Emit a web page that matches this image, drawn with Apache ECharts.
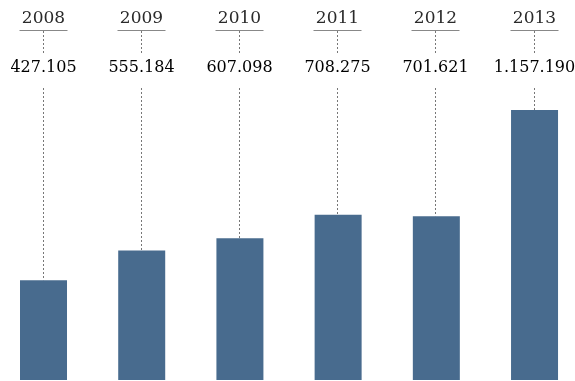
<!DOCTYPE html>
<html>
<head>
<meta charset="utf-8">
<script src="https://cdn.jsdelivr.net/npm/echarts@6/dist/echarts.min.js"></script>
<style>
  html, body { margin: 0; padding: 0; background: #fff; }
  #chart { width: 575px; height: 381px; }
</style>
</head>
<body>
<div id="chart"></div>
<script>
// 年份和数值
var years = ["2008", "2009", "2010", "2011", "2012", "2013"];
var values = [427105, 555184, 607098, 708275, 701621, 1157190];

// 千位用点号分隔
function fmt(v) {
    return String(v).replace(/\B(?=(\d{3})+(?!\d))/g, ".");
}

var myChart = echarts.init(document.getElementById("chart"));

// x 轴用数值轴，按年份下标定位
var points = values.map(function(v, i) { return [i, v]; });

var option = {
    animation: false,
    grid: {
        left: 0,
        right: 0,
        top: 110,
        bottom: 1
    },
    xAxis: {
        type: "value",
        min: -0.443,
        max: 5.412,
        show: false
    },
    yAxis: {
        type: "value",
        min: 0,
        max: "dataMax",
        show: false
    },
    series: [{
        type: "bar",
        data: points,
        barWidth: 47,
        silent: true,
        itemStyle: { color: "#486b8e" }
    }, {
        // 顶部年份、下划线、数值和虚线
        type: "custom",
        silent: true,
        data: points,
        encode: { x: 0, y: 1 },
        renderItem: function(params, api) {
            var pt = api.coord([api.value(0), api.value(1)]);
            var x = Math.round(pt[0]) - 0.5;
            var idx = api.value(0);
            var dash = { stroke: "#777", lineWidth: 1, lineDash: [2, 2] };
            return {
                type: "group",
                children: [{
                    type: "text",
                    style: {
                        x: x, y: 19,
                        text: years[idx],
                        align: "center",
                        verticalAlign: "middle",
                        font: "17px 'DejaVu Serif'",
                        fill: "#2a2a2a"
                    }
                }, {
                    type: "line",
                    shape: { x1: x - 24, y1: 30.5, x2: x + 24, y2: 30.5 },
                    style: { stroke: "#888", lineWidth: 1 }
                }, {
                    type: "line",
                    shape: { x1: x, y1: 31, x2: x, y2: 53 },
                    style: dash
                }, {
                    type: "text",
                    style: {
                        x: x, y: 68,
                        text: fmt(api.value(1)),
                        align: "center",
                        verticalAlign: "middle",
                        font: "16px 'DejaVu Serif'",
                        fill: "#000"
                    }
                }, {
                    type: "line",
                    shape: { x1: x, y1: 88, x2: x, y2: pt[1] },
                    style: dash
                }]
            };
        }
    }]
};

myChart.setOption(option);
</script>
</body>
</html>
